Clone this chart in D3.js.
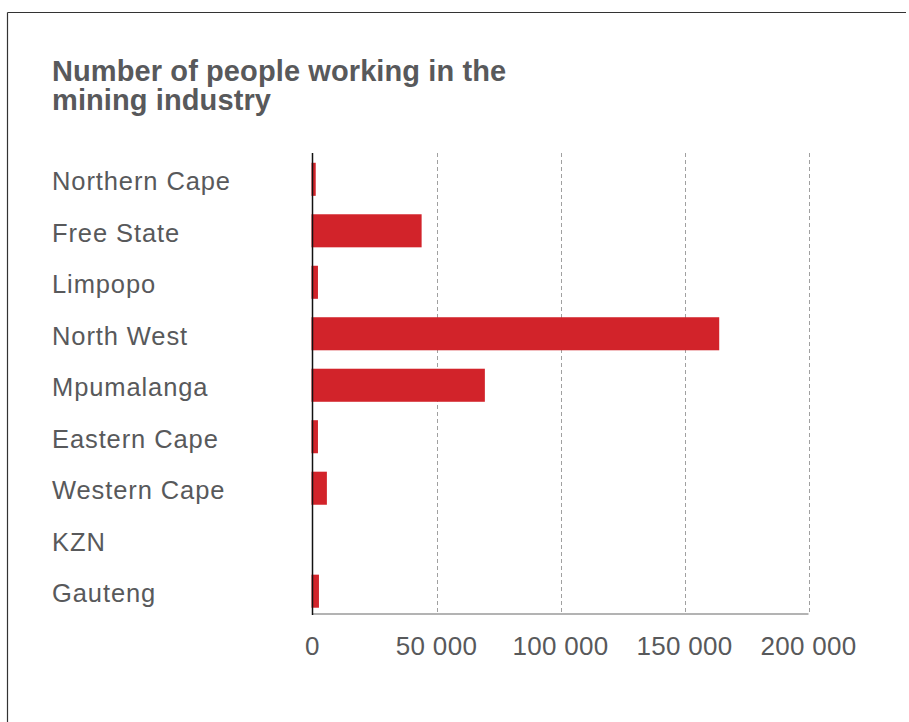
<!DOCTYPE html>
<html>
<head>
<meta charset="utf-8">
<script src="https://cdn.jsdelivr.net/npm/d3@7"></script>
<style>
  body { margin: 0; background: #fff; }
  text { font-family: "Liberation Sans", Arial, Helvetica, sans-serif; fill: #58595b; }
</style>
</head>
<body>
<script>
var provinces = ["Northern Cape", "Free State", "Limpopo", "North West", "Mpumalanga",
    "Eastern Cape", "Western Cape", "KZN", "Gauteng"];
var workers = [1300, 44000, 2200, 164000, 69500, 2200, 5800, 0, 2600];
var tickValues = [0, 50000, 100000, 150000, 200000];
var titleLines = ["Number of people working in the", "mining industry"];

var w = 909;
var h = 722;
var plotLeft = 312.5;
var plotRight = 808.5;
var plotTop = 153;
var plotBottom = 614;

var svg = d3.select("body")
    .append("svg")
    .attr("width", w)
    .attr("height", h);

// frame (top and left edges only are visible)
svg.append("line")
    .attr("x1", 7.5).attr("y1", 12.5)
    .attr("x2", 906).attr("y2", 12.5)
    .style("stroke", "#333").style("stroke-width", 1.2);
svg.append("line")
    .attr("x1", 7.5).attr("y1", 12.5)
    .attr("x2", 7.5).attr("y2", h)
    .style("stroke", "#333").style("stroke-width", 1.2);

var title = svg.append("text")
    .attr("x", 52)
    .attr("y", 81)
    .style("font-size", "29px")
    .style("font-weight", "bold")
    .style("letter-spacing", "0.1px");
title.selectAll("tspan")
    .data(titleLines)
    .enter()
    .append("tspan")
    .attr("x", 52)
    .attr("dy", (d, i) => { return i == 0 ? 0 : 29 })
    .text((d) => { return d });

var x = d3.scaleLinear().domain([0, 200000]).range([plotLeft, plotRight]);
// band range runs a little past the baseline so the last bar sits where it does in the original
var y = d3.scaleBand().domain(provinces).range([plotTop, plotBottom + 3.5]).paddingInner(0.358).paddingOuter(0.19);

// dashed gridlines
svg.selectAll(".grid")
    .data(tickValues.slice(1))
    .enter()
    .append("line")
    .attr("class", "grid")
    .attr("x1", (d) => { return Math.round(x(d)) + 0.5 })
    .attr("x2", (d) => { return Math.round(x(d)) + 0.5 })
    .attr("y1", plotTop)
    .attr("y2", plotBottom)
    .style("stroke", "#a0a0a0")
    .style("stroke-width", 1)
    .style("stroke-dasharray", "4,3");

// baseline
svg.append("line")
    .attr("x1", plotLeft).attr("x2", plotRight)
    .attr("y1", plotBottom).attr("y2", plotBottom)
    .style("stroke", "#9a9a9a").style("stroke-width", 1.5);

// bars
svg.selectAll(".bar")
    .data(provinces)
    .enter()
    .append("rect")
    .attr("class", "bar")
    .attr("x", x(0) - 1)
    .attr("y", (d) => { return y(d) })
    .attr("width", (d, i) => { return workers[i] > 0 ? x(workers[i]) - x(0) + 1 : 0 })
    .attr("height", y.bandwidth())
    .style("fill", "#d2232a");

// y axis line
svg.append("line")
    .attr("x1", plotLeft).attr("x2", plotLeft)
    .attr("y1", plotTop).attr("y2", plotBottom + 1)
    .style("stroke", "#111").style("stroke-width", 1.5);

// category labels
svg.selectAll(".cat")
    .data(provinces)
    .enter()
    .append("text")
    .attr("class", "cat")
    .attr("x", 52)
    .attr("y", (d) => { return y(d) + y.bandwidth() / 2 + 11 })
    .style("font-size", "25.5px")
    .style("letter-spacing", "0.9px")
    .text((d) => { return d });

// tick labels
var fmt = (d) => { return d3.format(",")(d).replace(/,/g, " ") };
svg.selectAll(".tick-label")
    .data(tickValues)
    .enter()
    .append("text")
    .attr("class", "tick-label")
    .attr("x", (d) => { return x(d) })
    .attr("y", 655)
    .attr("text-anchor", "middle")
    .style("font-size", "26px")
    .style("letter-spacing", "0.3px")
    .text((d) => { return fmt(d) });
</script>
</body>
</html>
